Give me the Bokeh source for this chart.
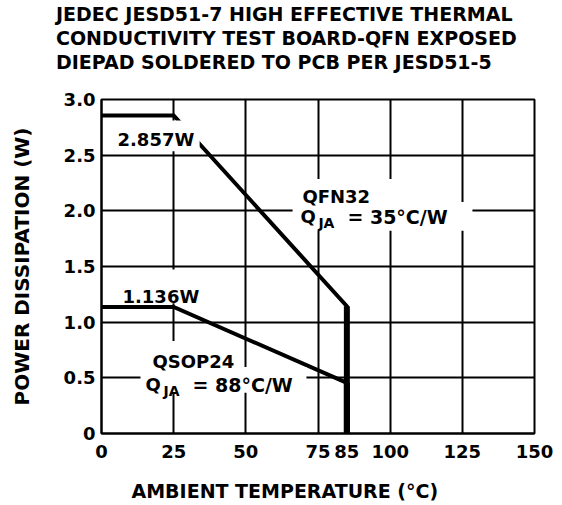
from bokeh.plotting import figure
from bokeh.models import Label, BoxAnnotation, FixedTicker, Range1d, NumeralTickFormatter, Title
from bokeh.embed import file_html
from bokeh.resources import INLINE

# ---- data ----
temps_qfn = [0, 25, 85, 85]
power_qfn = [2.857, 2.857, 1.143, 0.0]
temps_qsop = [0, 25, 85, 85]
power_qsop = [1.136, 1.136, 0.455, 0.0]

x_ticks = [0, 25, 50, 75, 85, 100, 125, 150]
x_tick_labels = ["0", "25", "50", "75", "85", "100", "125", "150"]
y_ticks = [0, 0.5, 1.0, 1.5, 2.0, 2.5, 3.0]
y_tick_labels = ["0", "0.5", "1.0", "1.5", "2.0", "2.5", "3.0"]

title_lines = ["JEDEC JESD51-7 HIGH EFFECTIVE THERMAL",
               "CONDUCTIVITY TEST BOARD-QFN EXPOSED",
               "DIEPAD SOLDERED TO PCB PER JESD51-5"]
x_label = "AMBIENT TEMPERATURE (°C)"
y_label = "POWER DISSIPATION (W)"

FONT = "DejaVu Sans"

p = figure(width=562, height=505, output_backend="svg", toolbar_location=None,
           x_range=Range1d(0, 150), y_range=Range1d(0, 3.0),
           min_border_left=101, min_border_right=28, min_border_top=97, min_border_bottom=72)
p.background_fill_color = "white"
p.border_fill_color = "white"
p.outline_line_color = "black"
p.outline_line_width = 2
p.outline_line_alpha = 1.0
p.title.text = ""
p.title.standoff = 0
p.title.text_font_size = "1px"

# axes
for ax in (p.xaxis[0], p.yaxis[0]):
    ax.axis_line_color = "black"
    ax.axis_line_width = 2
    ax.major_tick_in = 0
    ax.major_tick_out = 0
    ax.minor_tick_in = 0
    ax.minor_tick_out = 0
    ax.major_label_text_font = FONT
    ax.major_label_text_font_style = "bold"
    ax.major_label_text_font_size = "18px"
    ax.major_label_text_color = "black"

p.xaxis.ticker = FixedTicker(ticks=x_ticks)
p.xaxis.major_label_overrides = {t: l for t, l in zip(x_ticks, x_tick_labels)}
p.xaxis.major_label_standoff = 11

p.yaxis.ticker = FixedTicker(ticks=y_ticks)
p.yaxis.formatter = NumeralTickFormatter(format="0.0")
p.yaxis.major_label_overrides = {t: l for t, l in zip(y_ticks, y_tick_labels)}
p.yaxis.major_label_standoff = 6
p.yaxis.axis_label = y_label
p.yaxis.axis_label_text_font = FONT
p.yaxis.axis_label_text_font_style = "bold"
p.yaxis.axis_label_text_font_size = "20px"
p.yaxis.axis_label_text_color = "black"
p.yaxis.axis_label_standoff = 27

# grid
p.xgrid.ticker = FixedTicker(ticks=[t for t in x_ticks if t % 25 == 0 and 0 < t < 150])
p.ygrid.ticker = FixedTicker(ticks=[t for t in y_ticks if 0 < t < 3.0])
for g in (p.xgrid[0], p.ygrid[0]):
    g.grid_line_color = "black"
    g.grid_line_width = 2
    g.grid_line_alpha = 1.0

# data lines
p.line(temps_qfn, power_qfn, line_color="black", line_width=4, line_join="miter")
p.line(temps_qsop, power_qsop, line_color="black", line_width=4, line_join="miter")
p.line(temps_qfn[-2:], power_qfn[-2:], line_color="black", line_width=6)
p.line(temps_qsop[-2:], power_qsop[-2:], line_color="black", line_width=6)

# white label backgrounds
boxes = [
    (3.8, 34.0, 2.536, 2.812),    # 2.857W
    (4.85, 36.0, 1.170, 1.473),   # 1.136W
    (66.2, 101.9, 2.080, 2.286),  # QFN32
    (66.2, 128.5, 1.821, 2.080),  # QJA 35
    (15.2, 48.5, 0.598, 0.830),   # QSOP24
    (13.5, 71.0, 0.366, 0.598),   # QJA 88
]
for l, r, b, t in boxes:
    p.add_layout(BoxAnnotation(left=l, right=r, bottom=b, top=t, fill_color="white",
                               fill_alpha=1.0, line_alpha=0, level="annotation"))

def lab(x, y, text, size="18px", xo=0, yo=0):
    p.add_layout(Label(x=x, y=y, text=text, x_offset=xo, y_offset=yo,
                       text_font=FONT, text_font_style="bold", text_font_size=size,
                       text_color="black", text_baseline="alphabetic", text_align="left"))

lab(5.54, 2.643, "2.857W")
lab(7.27, 1.232, "1.136W")
lab(69.6, 2.125, "QFN32")
lab(68.9, 1.946, "Q")
lab(68.9, 1.946, "JA", size="14px", xo=18, yo=-6)
lab(68.9, 1.946, "= 35°C/W", size="19px", xo=47)
lab(17.67, 0.643, "QSOP24")
lab(15.24, 0.4375, "Q")
lab(15.24, 0.4375, "JA", size="14px", xo=18, yo=-6)
lab(15.24, 0.4375, "= 88°C/W", size="19px", xo=47)

def spacer(place, gap):
    p.add_layout(Title(text=" ", text_font_size="1px", standoff=gap), place)

def title(place, text, size, offset, standoff=0, valign="bottom"):
    p.add_layout(Title(text=text, align="left", offset=offset, text_font=FONT,
                       text_font_style="bold", text_font_size=size, text_color="black",
                       standoff=standoff, vertical_align=valign), place)

# title block above the frame (added from the frame outward)
spacer("above", 24)
for line in reversed(title_lines):
    title("above", line, "19px", -45.5, standoff=0)

# x-axis label below the tick labels
spacer("below", 16)
title("below", x_label, "19px", 30, standoff=0, valign="top")

open("out.html", "w").write(file_html(p, INLINE))
